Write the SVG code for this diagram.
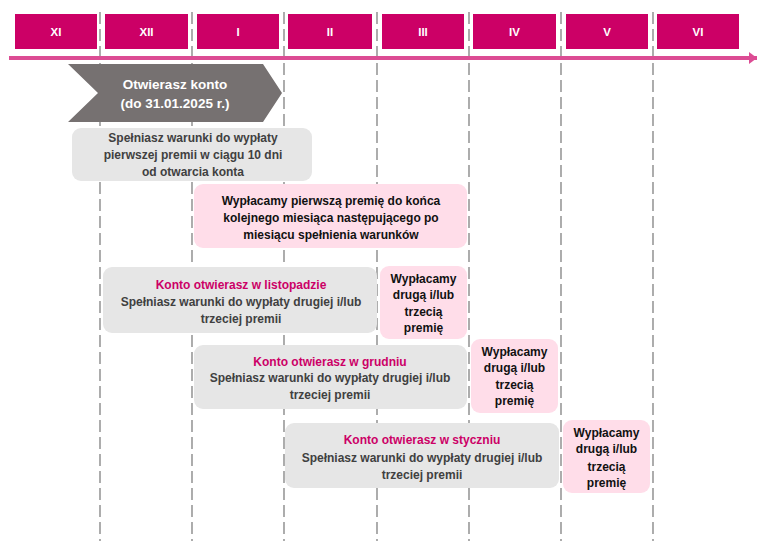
<svg xmlns="http://www.w3.org/2000/svg" width="758" height="543" viewBox="0 0 758 543">
<style>
  .month rect { fill: #cc0066; }
  .month text { fill: #ffffff; font-family: "Liberation Sans", Arial, sans-serif; font-weight: bold; font-size: 11.5px; text-anchor: middle; }
  .grid line { stroke: #8a8a8a; stroke-width: 1.4; stroke-dasharray: 12 5; }
  .t { font-family: "Liberation Sans", Arial, sans-serif; font-weight: bold; font-size: 12px; text-anchor: middle; }
  .g { fill: #404040; }
  .k { fill: #111111; }
  .p { fill: #cc0066; }
  .w { fill: #ffffff; font-size: 13.5px; }
  .gbox { fill: #e6e6e6; }
  .pbox { fill: #ffdde9; }
</style>
<defs>
  <marker id="ah" markerWidth="8" markerHeight="12" refX="8" refY="6" orient="auto" markerUnits="userSpaceOnUse">
    <path d="M0,0 L8,6 L0,12 Z" fill="#dc4c94"/>
  </marker>
</defs>
<rect width="758" height="543" fill="#ffffff"/>
<g id="grid" class="grid">
  <line x1="100" y1="12" x2="100" y2="541"/>
  <line x1="192" y1="12" x2="192" y2="541"/>
  <line x1="284" y1="12" x2="284" y2="541"/>
  <line x1="377" y1="12" x2="377" y2="541"/>
  <line x1="469" y1="12" x2="469" y2="541"/>
  <line x1="561" y1="12" x2="561" y2="541"/>
  <line x1="653" y1="12" x2="653" y2="541"/>
</g>
<g id="months">
  <g id="m-xi" class="month"><rect x="15" y="14" width="82" height="35"/><text x="56" y="35.5">XI</text></g>
  <g id="m-xii" class="month"><rect x="105" y="14" width="83" height="35"/><text x="146.5" y="35.5">XII</text></g>
  <g id="m-i" class="month"><rect x="197" y="14" width="82" height="35"/><text x="238" y="35.5">I</text></g>
  <g id="m-ii" class="month"><rect x="288" y="14" width="84" height="35"/><text x="330" y="35.5">II</text></g>
  <g id="m-iii" class="month"><rect x="382" y="14" width="82" height="35"/><text x="423" y="35.5">III</text></g>
  <g id="m-iv" class="month"><rect x="473" y="14" width="83" height="35"/><text x="514.5" y="35.5">IV</text></g>
  <g id="m-v" class="month"><rect x="566" y="14" width="82" height="35"/><text x="607" y="35.5">V</text></g>
  <g id="m-vi" class="month"><rect x="657" y="14" width="82" height="35"/><text x="698" y="35.5">VI</text></g>
</g>
<g id="connectors">
  <line x1="9" y1="58" x2="757" y2="58" stroke="#dc4c94" stroke-width="4" marker-end="url(#ah)"/>
</g>
<g id="open-account">
  <polygon points="68,64 263,64 282,93 263,122 68,122 98,93" fill="#767171"/>
  <text class="t w" x="175" y="89">Otwierasz konto</text>
  <text class="t w" x="175" y="108">(do 31.01.2025 r.)</text>
</g>
<g id="conditions-first">
  <rect class="gbox" x="72" y="128" width="240" height="53" rx="9"/>
  <text class="t g" x="193" y="142">Spełniasz warunki do wypłaty</text>
  <text class="t g" x="193" y="159">pierwszej premii w ciągu 10 dni</text>
  <text class="t g" x="193" y="176">od otwarcia konta</text>
</g>
<g id="payout-first">
  <rect class="pbox" x="194" y="184" width="273" height="64" rx="9"/>
  <text class="t k" x="331" y="205">Wypłacamy pierwszą premię do końca</text>
  <text class="t k" x="331" y="222">kolejnego miesiąca następującego po</text>
  <text class="t k" x="331" y="239">miesiącu spełnienia warunków</text>
</g>
<g id="nov-conditions">
  <rect class="gbox" x="103" y="267" width="274" height="66" rx="9"/>
  <text class="t p" x="241" y="289">Konto otwierasz w listopadzie</text>
  <text class="t g" x="241" y="306">Spełniasz warunki do wypłaty drugiej i/lub</text>
  <text class="t g" x="241" y="323">trzeciej premii</text>
</g>
<g id="nov-payout">
  <rect class="pbox" x="380" y="266" width="87" height="73" rx="9"/>
  <text class="t k" x="423.5" y="283">Wypłacamy</text>
  <text class="t k" x="423.5" y="299">drugą i/lub</text>
  <text class="t k" x="423.5" y="316">trzecią</text>
  <text class="t k" x="423.5" y="332">premię</text>
</g>
<g id="dec-conditions">
  <rect class="gbox" x="194" y="345" width="273" height="64" rx="9"/>
  <text class="t p" x="330" y="366">Konto otwierasz w grudniu</text>
  <text class="t g" x="330" y="382">Spełniasz warunki do wypłaty drugiej i/lub</text>
  <text class="t g" x="330" y="399">trzeciej premii</text>
</g>
<g id="dec-payout">
  <rect class="pbox" x="471" y="339" width="87" height="74" rx="9"/>
  <text class="t k" x="514.5" y="356">Wypłacamy</text>
  <text class="t k" x="514.5" y="372">drugą i/lub</text>
  <text class="t k" x="514.5" y="389">trzecią</text>
  <text class="t k" x="514.5" y="405">premię</text>
</g>
<g id="jan-conditions">
  <rect class="gbox" x="285" y="423" width="274" height="65" rx="9"/>
  <text class="t p" x="422" y="444">Konto otwierasz w styczniu</text>
  <text class="t g" x="422" y="462">Spełniasz warunki do wypłaty drugiej i/lub</text>
  <text class="t g" x="422" y="479">trzeciej premii</text>
</g>
<g id="jan-payout">
  <rect class="pbox" x="563" y="420" width="87" height="73" rx="9"/>
  <text class="t k" x="606.5" y="437">Wypłacamy</text>
  <text class="t k" x="606.5" y="453">drugą i/lub</text>
  <text class="t k" x="606.5" y="471">trzecią</text>
  <text class="t k" x="606.5" y="487">premię</text>
</g>
</svg>
